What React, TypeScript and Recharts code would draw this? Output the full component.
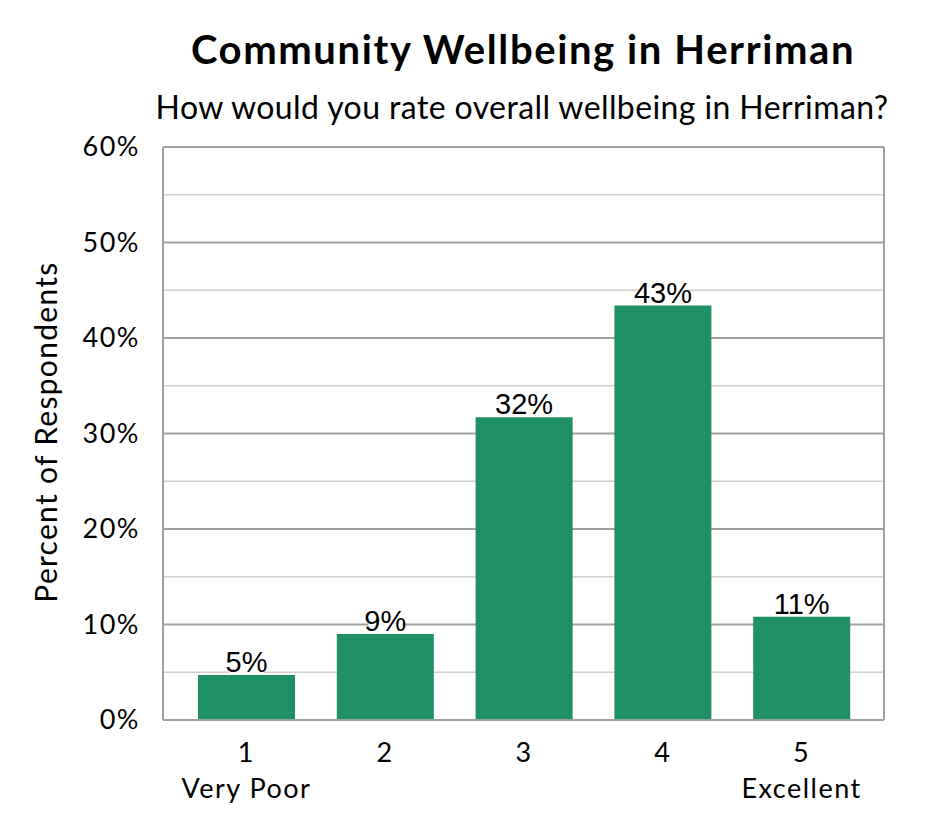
import React from 'react';
import { BarChart, Bar, XAxis, YAxis, CartesianGrid, LabelList } from 'recharts';

const categories = ['1', '2', '3', '4', '5'];
const subLabels = ['Very Poor', '', '', '', 'Excellent'];
const percents = [4.7, 9.0, 31.7, 43.4, 10.8];
const yTicks = [0, 5, 10, 15, 20, 25, 30, 35, 40, 45, 50, 55, 60];

const TITLE = 'Community Wellbeing in Herriman';
const SUBTITLE = 'How would you rate overall wellbeing in Herriman?';
const Y_LABEL = 'Percent of Respondents';

const data = categories.map((c, i) => ({ cat: c, sub: subLabels[i], value: percents[i] }));

const W = 945;
const H = 840;
const BAR_COLOR = '#1F9064';
const CAL = 'Lato, "Open Sans", sans-serif';

const GridLine = (props: any) => {
  const { x1, y1, x2, y2, index } = props;
  const major = index % 2 === 0;
  return (
    <line
      x1={x1}
      y1={y1}
      x2={x2}
      y2={y2}
      stroke={major ? '#a0a0a0' : '#d0d0d0'}
      strokeWidth={major ? 2 : 1.3}
    />
  );
};

const XTick = (props: any) => {
  const { x, y, payload, index } = props;
  const sub = subLabels[index] ?? '';
  return (
    <g>
      <text x={x} y={y + 42} textAnchor="middle" fontFamily={CAL} fontSize={27} letterSpacing={1.5} fill="#000">
        {payload.value}
      </text>
      {sub ? (
        <text x={x} y={y + 78} textAnchor="middle" fontFamily={CAL} fontSize={27} letterSpacing={1.5} fill="#000">
          {sub}
        </text>
      ) : null}
    </g>
  );
};

const YTick = (props: any) => {
  const { x, y, payload } = props;
  if (payload.value % 10 !== 0) return <g />;
  return (
    <text x={x} y={y} dy={9} textAnchor="end" fontFamily={CAL} fontSize={27} letterSpacing={1.5} fill="#000">
      {`${payload.value}%`}
    </text>
  );
};

const BarLabel = (props: any) => {
  const { x, y, width, value } = props;
  const txt = `${Math.round(value)}%`;
  const tw = txt.length * 16 + 2;
  const cx = x + width / 2;
  return (
    <g>
      <rect x={cx - tw / 2} y={y - 27} width={tw} height={25} fill="#fff" />
      <text x={cx} y={y - 3} textAnchor="middle" fontFamily='"Liberation Sans", Arial, sans-serif' fontSize={29} fill="#000">
        {txt}
      </text>
    </g>
  );
};

const YLabel = () => (
  <text
    x={57}
    y={432}
    transform="rotate(-90, 57, 432)"
    textAnchor="middle"
    fontFamily={CAL}
    fontSize={30}
    letterSpacing={1.3}
    fill="#000"
  >
    {Y_LABEL}
  </text>
);

export default function App() {
  return (
    <div style={{ position: 'absolute', left: 0, top: 0, width: W, height: H, background: '#fff' }}>
      <BarChart
        width={W}
        height={H}
        data={data}
        margin={{ top: 147, right: 60, bottom: 0, left: 0 }}
        barSize={97}
      >
        <CartesianGrid vertical={false} horizontal={GridLine} />
        <XAxis
          dataKey="cat"
          height={120}
          padding={{ left: 14, right: 13 }}
          axisLine={{ stroke: '#a0a0a0', strokeWidth: 2 }}
          tickLine={false}
          tickSize={0}
          tickMargin={0}
          tick={XTick}
          interval={0}
        />
        <YAxis
          width={163}
          domain={[0, 60]}
          ticks={yTicks}
          interval={0}
          axisLine={{ stroke: '#a0a0a0', strokeWidth: 2 }}
          tickLine={false}
          tickSize={0}
          tickMargin={23}
          tick={YTick}
          label={YLabel}
        />
        <YAxis
          yAxisId="right"
          orientation="right"
          width={1}
          domain={[0, 60]}
          axisLine={{ stroke: '#a0a0a0', strokeWidth: 2 }}
          tickLine={false}
          tick={false}
        />
        <Bar dataKey="value" fill={BAR_COLOR} isAnimationActive={false}>
          <LabelList dataKey="value" content={BarLabel} />
        </Bar>
      </BarChart>
      <svg
        width={W}
        height={140}
        style={{ position: 'absolute', left: 0, top: 0, pointerEvents: 'none' }}
      >
        <text x={523} y={64} textAnchor="middle" fontFamily={CAL} fontWeight={700} fontSize={40} letterSpacing={1.6} fill="#000">
          {TITLE}
        </text>
        <text x={522} y={119} textAnchor="middle" fontFamily={CAL} fontSize={32} letterSpacing={0.4} fill="#000">
          {SUBTITLE}
        </text>
      </svg>
    </div>
  );
}
